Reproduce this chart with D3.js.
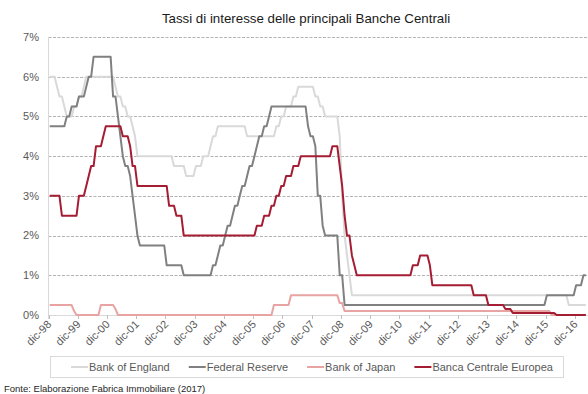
<!DOCTYPE html>
<html><head><meta charset="utf-8">
<script src="https://cdn.jsdelivr.net/npm/d3@7"></script>
<style>
body{margin:0;background:#fff}
svg{display:block}
text{font-family:"Liberation Sans",Arial,sans-serif}
</style>
</head><body>
<svg id="chart" width="588" height="394"></svg>
<script>
// ---------------- DATA ----------------
const titleText = "Tassi di interesse delle principali Banche Centrali";
const sourceText = "Fonte: Elaborazione Fabrica Immobiliare (2017)";
const firstMonth = new Date(1998, 11, 1);   // dic-98
const endMonth = new Date(2017, 4, 1);      // exclusive
const yTickValues = [0, 1, 2, 3, 4, 5, 6, 7];
const yTickLabels = ["0%", "1%", "2%", "3%", "4%", "5%", "6%", "7%"];
const xTickLabels = ["dic-98","dic-99","dic-00","dic-01","dic-02","dic-03","dic-04","dic-05","dic-06",
                     "dic-07","dic-08","dic-09","dic-10","dic-11","dic-12","dic-13","dic-14","dic-15","dic-16"];
const seriesNames = ["Bank of England", "Federal Reserve", "Bank of Japan", "Banca Centrale Europea"];

// monthly values (%), one row per year starting in December
const bankOfEngland = [
  6,6,6,5.75,5.5,5.5,5.25,5,5,5,5.25,5.25,
  5.5,5.5,5.75,6,6,6,6,6,6,6,6,6,
  6,6,6,5.75,5.5,5.5,5.25,5.25,5,5,4.75,4.5,
  4,4,4,4,4,4,4,4,4,4,4,4,
  4,4,4,3.75,3.75,3.75,3.75,3.75,3.5,3.5,3.5,3.5,
  3.75,3.75,3.75,4,4,4,4.25,4.5,4.5,4.75,4.75,4.75,
  4.75,4.75,4.75,4.75,4.75,4.75,4.75,4.75,4.75,4.5,4.5,4.5,
  4.5,4.5,4.5,4.5,4.5,4.5,4.5,4.5,4.5,4.75,4.75,5,
  5,5.25,5.25,5.25,5.5,5.5,5.75,5.75,5.75,5.75,5.75,5.75,
  5.75,5.5,5.5,5.25,5.25,5,5,5,5,5,5,4.5,
  3,2,1.5,1,0.5,0.5,0.5,0.5,0.5,0.5,0.5,0.5,
  0.5,0.5,0.5,0.5,0.5,0.5,0.5,0.5,0.5,0.5,0.5,0.5,
  0.5,0.5,0.5,0.5,0.5,0.5,0.5,0.5,0.5,0.5,0.5,0.5,
  0.5,0.5,0.5,0.5,0.5,0.5,0.5,0.5,0.5,0.5,0.5,0.5,
  0.5,0.5,0.5,0.5,0.5,0.5,0.5,0.5,0.5,0.5,0.5,0.5,
  0.5,0.5,0.5,0.5,0.5,0.5,0.5,0.5,0.5,0.5,0.5,0.5,
  0.5,0.5,0.5,0.5,0.5,0.5,0.5,0.5,0.5,0.5,0.5,0.5,
  0.5,0.5,0.5,0.5,0.5,0.5,0.5,0.5,0.5,0.25,0.25,0.25,
  0.25,0.25,0.25,0.25,0.25
];
const federalReserve = [
  4.75,4.75,4.75,4.75,4.75,4.75,4.75,5,5,5.25,5.25,5.25,
  5.5,5.5,5.5,5.75,6,6,6.5,6.5,6.5,6.5,6.5,6.5,
  6.5,6.5,5.5,5.5,5,4.5,4,3.75,3.75,3.5,3,2.5,
  2,1.75,1.75,1.75,1.75,1.75,1.75,1.75,1.75,1.75,1.75,1.75,
  1.25,1.25,1.25,1.25,1.25,1.25,1.25,1,1,1,1,1,
  1,1,1,1,1,1,1,1.25,1.25,1.5,1.75,1.75,
  2,2.25,2.25,2.5,2.75,2.75,3,3.25,3.25,3.5,3.75,3.75,
  4,4.25,4.5,4.5,4.75,4.75,5,5.25,5.25,5.25,5.25,5.25,
  5.25,5.25,5.25,5.25,5.25,5.25,5.25,5.25,5.25,5.25,4.75,4.5,
  4.5,4.25,3,3,2.25,2,2,2,2,2,2,1,
  1,0.25,0.25,0.25,0.25,0.25,0.25,0.25,0.25,0.25,0.25,0.25,
  0.25,0.25,0.25,0.25,0.25,0.25,0.25,0.25,0.25,0.25,0.25,0.25,
  0.25,0.25,0.25,0.25,0.25,0.25,0.25,0.25,0.25,0.25,0.25,0.25,
  0.25,0.25,0.25,0.25,0.25,0.25,0.25,0.25,0.25,0.25,0.25,0.25,
  0.25,0.25,0.25,0.25,0.25,0.25,0.25,0.25,0.25,0.25,0.25,0.25,
  0.25,0.25,0.25,0.25,0.25,0.25,0.25,0.25,0.25,0.25,0.25,0.25,
  0.25,0.25,0.25,0.25,0.25,0.25,0.25,0.25,0.25,0.25,0.25,0.25,
  0.5,0.5,0.5,0.5,0.5,0.5,0.5,0.5,0.5,0.5,0.5,0.5,
  0.75,0.75,0.75,1,1
];
const bankOfJapan = [
  0.25,0.25,0.25,0.25,0.25,0.25,0.25,0.25,0.25,0.25,0.1,0,
  0,0,0,0,0,0,0,0,0,0.25,0.25,0.25,
  0.25,0.25,0.25,0.15,0,0,0,0,0,0,0,0,
  0,0,0,0,0,0,0,0,0,0,0,0,
  0,0,0,0,0,0,0,0,0,0,0,0,
  0,0,0,0,0,0,0,0,0,0,0,0,
  0,0,0,0,0,0,0,0,0,0,0,0,
  0,0,0,0,0,0,0,0,0.25,0.25,0.25,0.25,
  0.25,0.25,0.25,0.5,0.5,0.5,0.5,0.5,0.5,0.5,0.5,0.5,
  0.5,0.5,0.5,0.5,0.5,0.5,0.5,0.5,0.5,0.5,0.5,0.3,
  0.3,0.1,0.1,0.1,0.1,0.1,0.1,0.1,0.1,0.1,0.1,0.1,
  0.1,0.1,0.1,0.1,0.1,0.1,0.1,0.1,0.1,0.1,0.1,0.1,
  0.1,0.1,0.1,0.1,0.1,0.1,0.1,0.1,0.1,0.1,0.1,0.1,
  0.1,0.1,0.1,0.1,0.1,0.1,0.1,0.1,0.1,0.1,0.1,0.1,
  0.1,0.1,0.1,0.1,0.1,0.1,0.1,0.1,0.1,0.1,0.1,0.1,
  0.1,0.1,0.1,0.1,0.1,0.1,0.1,0.1,0.1,0.1,0.1,0.1,
  0.1,0.1,0.1,0.1,0.1,0.1,0.1,0.1,0.1,0.1,0.1,0.1,
  0.1,0.1,0,0,0,0,0,0,0,0,0,0,
  0,0,0,0,0
];
const bancaCentraleEuropea = [
  3,3,3,3,3,2.5,2.5,2.5,2.5,2.5,2.5,2.5,
  3,3,3,3.25,3.5,3.75,3.75,4.25,4.25,4.25,4.5,4.75,
  4.75,4.75,4.75,4.75,4.75,4.75,4.5,4.5,4.5,4.25,3.75,3.75,
  3.25,3.25,3.25,3.25,3.25,3.25,3.25,3.25,3.25,3.25,3.25,3.25,
  3.25,2.75,2.75,2.75,2.5,2.5,2.5,2,2,2,2,2,
  2,2,2,2,2,2,2,2,2,2,2,2,
  2,2,2,2,2,2,2,2,2,2,2,2,
  2,2.25,2.25,2.25,2.5,2.5,2.5,2.75,2.75,3,3,3.25,
  3.25,3.5,3.5,3.5,3.75,3.75,3.75,4,4,4,4,4,
  4,4,4,4,4,4,4,4,4.25,4.25,4.25,3.75,
  3.25,2.5,2,2,1.5,1.25,1,1,1,1,1,1,
  1,1,1,1,1,1,1,1,1,1,1,1,
  1,1,1,1,1,1.25,1.25,1.25,1.5,1.5,1.5,1.5,
  1.25,0.75,0.75,0.75,0.75,0.75,0.75,0.75,0.75,0.75,0.75,0.75,
  0.75,0.75,0.75,0.75,0.75,0.75,0.5,0.5,0.5,0.5,0.5,0.5,
  0.25,0.25,0.25,0.25,0.25,0.25,0.25,0.15,0.15,0.15,0.05,0.05,
  0.05,0.05,0.05,0.05,0.05,0.05,0.05,0.05,0.05,0.05,0.05,0.05,
  0.05,0.05,0.05,0.05,0,0,0,0,0,0,0,0,
  0,0,0,0,0
];
const seriesColors = ["#d9d9d9", "#808080", "#e8a3a3", "#a51d33"];

// ---------------- CHART ----------------
const months = d3.timeMonth.range(firstMonth, endMonth);
const seriesValues = [bankOfEngland, federalReserve, bankOfJapan, bancaCentraleEuropea];
const series = seriesNames.map((name, i) => ({
  name, color: seriesColors[i],
  points: months.map((m, j) => ({ date: m, value: seriesValues[i][j] }))
}));

const svg = d3.select("#chart");
const plotLeft = 48.5, plotTop = 37, plotBottom = 315, monthW = 2.437;
const plotRight = plotLeft + months.length * monthW;

const x = d3.scaleBand().domain(months.map(m => +m)).range([plotLeft, plotRight]).padding(0);
const y = d3.scaleLinear().domain([0, 7]).range([plotBottom, plotTop]);
const cx = d => x(+d) + x.bandwidth() / 2;

// title
svg.append("text").attr("x", 306).attr("y", 23).attr("text-anchor", "middle")
  .attr("font-size", 13.3).attr("fill", "#1a1a1a").text(titleText);

// gridlines
svg.append("g").selectAll("line").data(yTickValues.filter(v => v > 0)).join("line")
  .attr("x1", plotLeft).attr("x2", 588)
  .attr("y1", d => Math.round(y(d)) + 0.5).attr("y2", d => Math.round(y(d)) + 0.5)
  .attr("stroke", "#b3b3b3").attr("stroke-width", 1).attr("stroke-dasharray", "3,1.5");

// y axis line
svg.append("line").attr("x1", plotLeft).attr("x2", plotLeft).attr("y1", plotTop).attr("y2", plotBottom + 4)
  .attr("stroke", "#d9d9d9").attr("stroke-width", 1);

// y labels
svg.append("g").selectAll("text").data(yTickValues).join("text")
  .attr("x", 39).attr("y", d => y(d)).attr("dy", "0.35em").attr("text-anchor", "end")
  .attr("font-size", 11).attr("fill", "#595959").text((d, i) => yTickLabels[i]);

// x axis line and ticks
svg.append("line").attr("x1", plotLeft).attr("x2", 588).attr("y1", plotBottom + 0.5).attr("y2", plotBottom + 0.5)
  .attr("stroke", "#d9d9d9").attr("stroke-width", 1);
const tickMonths = months.filter((m, i) => i % 12 === 0);
svg.append("g").selectAll("line").data(tickMonths).join("line")
  .attr("x1", d => Math.round(x(+d)) + 0.5).attr("x2", d => Math.round(x(+d)) + 0.5)
  .attr("y1", plotBottom).attr("y2", plotBottom + 4)
  .attr("stroke", "#bfbfbf").attr("stroke-width", 1);
svg.append("g").selectAll("text").data(tickMonths).join("text")
  .attr("transform", d => `translate(${x(+d) + 3.5},${plotBottom + 10}) rotate(-45)`)
  .attr("text-anchor", "end").attr("font-size", 11).attr("fill", "#595959")
  .text((d, i) => xTickLabels[i]);

// lines
svg.append("clipPath").attr("id", "clip").append("rect")
  .attr("x", plotLeft).attr("y", plotTop - 5).attr("width", 588 - plotLeft).attr("height", plotBottom - plotTop + 8);
const line = d3.line().x(d => cx(d.date)).y(d => y(d.value));
svg.append("g").attr("clip-path", "url(#clip)").selectAll("path").data(series).join("path")
  .attr("d", d => line(d.points)).attr("fill", "none")
  .attr("stroke", d => d.color).attr("stroke-width", 2).attr("stroke-linejoin", "round");

// legend
const legend = svg.append("g");
legend.append("rect").attr("x", 50.5).attr("y", 356.5).attr("width", 513).attr("height", 21)
  .attr("fill", "none").attr("stroke", "#d9d9d9");
let lx = 71;
series.forEach(s => {
  legend.append("line").attr("x1", lx).attr("x2", lx + 17).attr("y1", 367).attr("y2", 367)
    .attr("stroke", s.color).attr("stroke-width", 2);
  const t = legend.append("text").attr("x", lx + 18).attr("y", 367).attr("dy", "0.35em")
    .attr("font-size", 11).attr("fill", "#595959").text(s.name);
  lx = lx + 18 + t.node().getComputedTextLength() + 19;
});

// source
svg.append("text").attr("x", 4).attr("y", 392).attr("font-size", 9.5).attr("fill", "#262626").text(sourceText);
</script>
</body></html>
